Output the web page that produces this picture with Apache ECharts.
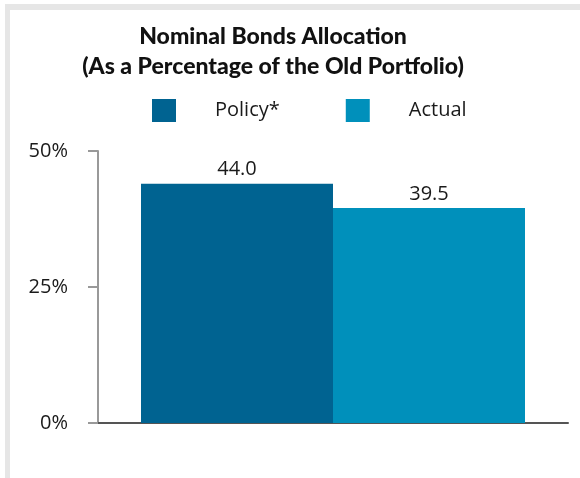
<!DOCTYPE html>
<html>
<head>
<meta charset="utf-8">
<script src="https://cdn.jsdelivr.net/npm/echarts@6/dist/echarts.min.js"></script>
<style>
  html, body { margin: 0; padding: 0; background: #fff; }
  #chart { width: 580px; height: 478px; }
</style>
</head>
<body>
<div id="chart"></div>
<script>
// chart data
const categories = ['Nominal Bonds'];
const seriesNames = ['Policy*', 'Actual'];
const policyValues = [44.0];
const actualValues = [39.5];
const yTicks = [0, 25, 50];

const FONT = 'Open Sans';
const chart = echarts.init(document.getElementById('chart'));

const labelStyle = {
  show: true,
  position: 'top',
  distance: 4,
  fontFamily: FONT,
  fontSize: 20,
  color: '#1a1a1a',
  formatter: (p) => p.value.toFixed(1),
};

chart.setOption({
  animation: false,
  graphic: [
    // light grey frame along top and left edges
    { type: 'rect', shape: { x: 5, y: 4, width: 575, height: 6 }, style: { fill: '#e6e6e6' } },
    { type: 'rect', shape: { x: 5, y: 4, width: 5, height: 474 }, style: { fill: '#e6e6e6' } },
  ],
  title: {
    text: 'Nominal Bonds Allocation\n(As a Percentage of the Old Portfolio)',
    left: 268,
    top: 17,
    textAlign: 'center',
    textStyle: {
      fontFamily: 'Lato',
      fontWeight: 900,
      fontSize: 23,
      lineHeight: 30,
      color: '#111',
    },
  },
  legend: {
    data: seriesNames,
    left: 147,
    top: 94,
    icon: 'rect',
    itemWidth: 24,
    itemHeight: 23,
    itemGap: 66,
    textStyle: {
      fontFamily: FONT,
      fontSize: 20,
      color: '#1a1a1a',
      padding: [0, 0, 0, 34],
    },
  },
  grid: {
    left: 98,
    right: 12,
    top: 151,
    bottom: 55,
  },
  xAxis: {
    type: 'category',
    data: categories,
    axisLine: { lineStyle: { color: '#555', width: 2 } },
    axisTick: { show: false },
    axisLabel: { show: false },
  },
  yAxis: {
    type: 'value',
    min: yTicks[0],
    max: yTicks[yTicks.length - 1],
    interval: yTicks[1] - yTicks[0],
    splitLine: { show: false },
    axisLine: { show: true, lineStyle: { color: '#999', width: 2 } },
    axisTick: { show: true, length: 10, lineStyle: { color: '#999', width: 2 } },
    axisLabel: {
      margin: 30,
      fontFamily: FONT,
      fontSize: 20,
      color: '#1a1a1a',
      formatter: '{value}%',
    },
  },
  series: [
    {
      name: seriesNames[0],
      type: 'bar',
      data: policyValues,
      barWidth: 192,
      barGap: '0%',
      itemStyle: { color: '#006391' },
      label: labelStyle,
    },
    {
      name: seriesNames[1],
      type: 'bar',
      data: actualValues,
      barWidth: 192,
      barGap: '0%',
      itemStyle: { color: '#0090bb' },
      label: labelStyle,
    },
  ],
});
</script>
</body>
</html>
